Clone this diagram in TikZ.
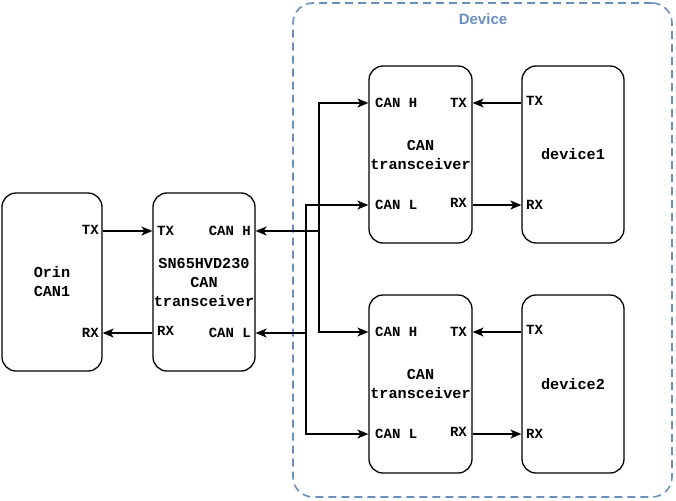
\documentclass[tikz,border=0pt]{standalone}
\usepackage{fontspec}
\setmainfont{Liberation Sans}
\setmonofont{Liberation Mono}
\usetikzlibrary{arrows.meta}
\definecolor{devblue}{HTML}{6C8EBF}
\begin{document}
\begin{tikzpicture}[x=1pt,y=-1pt,
 blk/.style={draw,line width=1.3pt,rounded corners=14pt,align=center,inner xsep=0pt,
  font=\fontsize{15.2}{19}\selectfont\ttfamily\bfseries},
 pin/.style={inner sep=0pt,font=\fontsize{14}{16}\selectfont\ttfamily\bfseries},
 sig/.style={line width=1.2pt,-{Stealth[length=11pt,width=9pt,inset=3pt]}}]
 \useasboundingbox (0,0) rectangle (676,500);
 \node[draw=devblue,line width=1.6pt,dash pattern=on 8pt off 5pt,rounded corners=20pt,
  minimum width=379pt,minimum height=494pt] (dev) at (482.5,250) {};
 \node[text=devblue,font=\fontsize{15}{18}\selectfont\bfseries] (devname) at (483,19) {Device};
 \node[blk,minimum width=100pt,minimum height=178pt] (orin) at (52,282) {Orin\\CAN1};
 \node[blk,minimum width=102pt,minimum height=178pt] (sn) at (204,282) {SN65HVD230\\CAN\\transceiver};
 \node[blk,minimum width=103pt,minimum height=177pt] (trA) at (420.5,154.5) {CAN\\transceiver};
 \node[blk,minimum width=102pt,minimum height=177pt] (devA) at (573,154.5) {device1};
 \node[blk,minimum width=103pt,minimum height=178pt] (trB) at (420.5,384) {CAN\\transceiver};
 \node[blk,minimum width=102pt,minimum height=178pt] (devB) at (573,384) {device2};
 \node[pin,anchor=east] (o-tx) at (99,230) {TX};
 \node[pin,anchor=east] (o-rx) at (99,333) {RX};
 \node[pin,anchor=west] (s-tx) at (157,231) {TX};
 \node[pin,anchor=west] (s-rx) at (157,331) {RX};
 \node[pin,anchor=east] (s-h) at (251,231) {CAN H};
 \node[pin,anchor=east] (s-l) at (251,333) {CAN L};
 \node[pin,anchor=west] (a-h) at (375,103) {CAN H};
 \node[pin,anchor=west] (a-l) at (375,205) {CAN L};
 \node[pin,anchor=east] (a-tx) at (467,103) {TX};
 \node[pin,anchor=east] (a-rx) at (467,203) {RX};
 \node[pin,anchor=west] (d1-tx) at (526,101) {TX};
 \node[pin,anchor=west] (d1-rx) at (526,205) {RX};
 \node[pin,anchor=west] (b-h) at (375,332) {CAN H};
 \node[pin,anchor=west] (b-l) at (375,434) {CAN L};
 \node[pin,anchor=east] (b-tx) at (467,332) {TX};
 \node[pin,anchor=east] (b-rx) at (467,432) {RX};
 \node[pin,anchor=west] (d2-tx) at (526,330) {TX};
 \node[pin,anchor=west] (d2-rx) at (526,434) {RX};
 \coordinate (hJ) at (319,231);
 \coordinate (lJ) at (306,333);
 \draw[sig] (orin.east |- s-tx) -- (sn.west |- s-tx);
 \draw[sig] (sn.west |- s-l) -- (orin.east |- s-l);
 \draw[sig] (hJ) -- (sn.east |- hJ);
 \draw[sig] (lJ) -- (sn.east |- lJ);
 \draw[sig] (hJ) |- (trA.west |- a-h);
 \draw[sig] (hJ) |- (trB.west |- b-h);
 \draw[sig] (lJ) |- (trA.west |- a-l);
 \draw[sig] (lJ) |- (trB.west |- b-l);
 \draw[sig] (devA.west |- a-h) -- (trA.east |- a-h);
 \draw[sig] (trA.east |- a-l) -- (devA.west |- a-l);
 \draw[sig] (devB.west |- b-h) -- (trB.east |- b-h);
 \draw[sig] (trB.east |- b-l) -- (devB.west |- b-l);
\end{tikzpicture}
\end{document}
